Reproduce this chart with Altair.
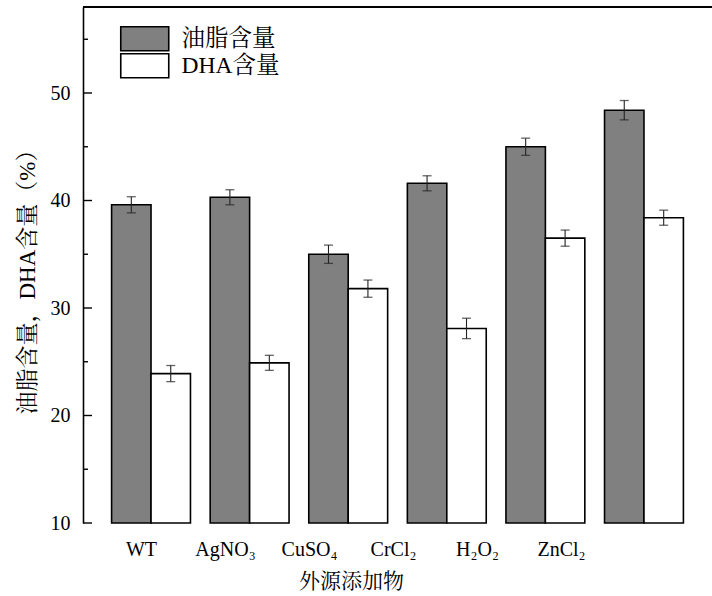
import altair as alt
import pandas as pd

categories = ["WT", "AgNO₃", "CuSO₄", "CrCl₂", "H₂O₂", "ZnCl₂"]
series = ["油脂含量", "DHA含量"]
oil = [39.6, 40.3, 35.0, 41.6, 45.0, 48.4]
oil_err = [0.75, 0.7, 0.85, 0.7, 0.8, 0.9]
dha = [23.9, 24.9, 31.8, 28.1, 36.5, 38.4]
dha_err = [0.75, 0.7, 0.8, 0.95, 0.75, 0.7]
major_ticks = [10, 20, 30, 40, 50]
minor_ticks = [15, 25, 35, 45, 55]

rows = []
for c, v, e in zip(categories, oil, oil_err):
    rows.append({"cat": c, "series": series[0], "value": v, "lo": v - e, "hi": v + e})
for c, v, e in zip(categories, dha, dha_err):
    rows.append({"cat": c, "series": series[1], "value": v, "lo": v - e, "hi": v + e})
df = pd.DataFrame(rows)
cat_df = pd.DataFrame({"cat": categories})

FONT = "Liberation Serif, Times New Roman, Noto Serif CJK SC, Noto Sans CJK SC"
W, H = 629, 516
YMIN, YMAX = 10, 58

xscale = alt.Scale(paddingInner=0.2, paddingOuter=0.29)
xenc = alt.X("cat:N", sort=categories, scale=xscale,
             axis=alt.Axis(title=None, labels=False, ticks=False, orient="bottom",
                           domainColor="black", domainWidth=1.6))
xplain = alt.X("cat:N", sort=categories, scale=xscale, axis=None)
yscale = alt.Scale(domain=[YMIN, YMAX], nice=False, zero=False)
xoff = alt.XOffset("series:N", sort=series, scale=alt.Scale(paddingInner=0, paddingOuter=0))

bars = alt.Chart(df).mark_bar(stroke="black", strokeWidth=1.6).encode(
    x=xenc,
    xOffset=xoff,
    y=alt.Y("value:Q", scale=yscale,
            axis=alt.Axis(title="油脂含量，DHA含量（%）", values=major_ticks,
                          ticks=False, grid=False, labelPadding=13,
                          titlePadding=11, titleY=269, titleFontSize=23,
                          domainColor="black", domainWidth=1.6)),
    y2=alt.datum(YMIN),
    color=alt.Color("series:N", sort=series,
                    scale=alt.Scale(domain=series, range=["#808080", "#ffffff"]),
                    legend=alt.Legend(title=None, orient="none", legendX=50, legendY=20,
                                      symbolType="M-4,-2L4,-2L4,2L-4,2Z",
                                      symbolSize=144, symbolStrokeColor="black",
                                      symbolStrokeWidth=1.6, symbolOpacity=1,
                                      labelFont=FONT, labelFontSize=23.5,
                                      labelColor="black", labelOffset=25,
                                      rowPadding=-6)),
)

rules = alt.Chart(df).mark_rule(color="#222222", strokeWidth=1.1).encode(
    x=xplain, xOffset=xoff,
    y=alt.Y("lo:Q", scale=yscale), y2="hi:Q",
)
caps_hi = alt.Chart(df).mark_tick(color="#222222", size=9, thickness=1.3).encode(
    x=xplain, xOffset=xoff,
    y=alt.Y("hi:Q", scale=yscale),
)
caps_lo = alt.Chart(df).mark_tick(color="#222222", size=9, thickness=1.3).encode(
    x=xplain, xOffset=xoff,
    y=alt.Y("lo:Q", scale=yscale),
)

major_df = pd.DataFrame({"t": major_ticks})
minor_df = pd.DataFrame({"t": minor_ticks})
major_rules = alt.Chart(major_df).mark_rule(color="black", strokeWidth=1.4).encode(
    y=alt.Y("t:Q", scale=yscale), x=alt.value(0), x2=alt.value(9))
minor_rules = alt.Chart(minor_df).mark_rule(color="black", strokeWidth=1.4).encode(
    y=alt.Y("t:Q", scale=yscale), x=alt.value(0), x2=alt.value(5))
top_line = alt.Chart(major_df).mark_rule(color="black", strokeWidth=1.6).encode(
    y=alt.value(0), x=alt.value(0), x2=alt.value(W))

main = alt.layer(bars, rules, caps_hi, caps_lo, major_rules, minor_rules, top_line)

# category labels (in the original figure they sit on a tighter spacing than the bars)
label_axis = alt.Chart(cat_df).mark_point(opacity=0).encode(
    x=alt.X("cat:N", sort=categories,
            scale=alt.Scale(type="point", range=[58, 478], padding=0),
            axis=alt.Axis(title="外源添加物", orient="bottom", labelAngle=0,
                          ticks=False, domain=False, labelPadding=16,
                          titlePadding=11, titleFontSize=21)),
    y=alt.value(H),
)

chart = alt.layer(main, label_axis).resolve_scale(x="independent").properties(
    width=W, height=H,
    background="white",
    autosize=alt.AutoSizeParams(type="none"),
    padding={"left": 83, "top": 7, "right": 0, "bottom": 73},
).configure_view(stroke=None).configure_axis(
    labelFont=FONT, titleFont=FONT, labelFontSize=20, titleFontSize=20,
    labelColor="black", titleColor="black", titleFontWeight="normal",
)

chart.save("out.html", embed_options={"renderer": "svg", "actions": False})
